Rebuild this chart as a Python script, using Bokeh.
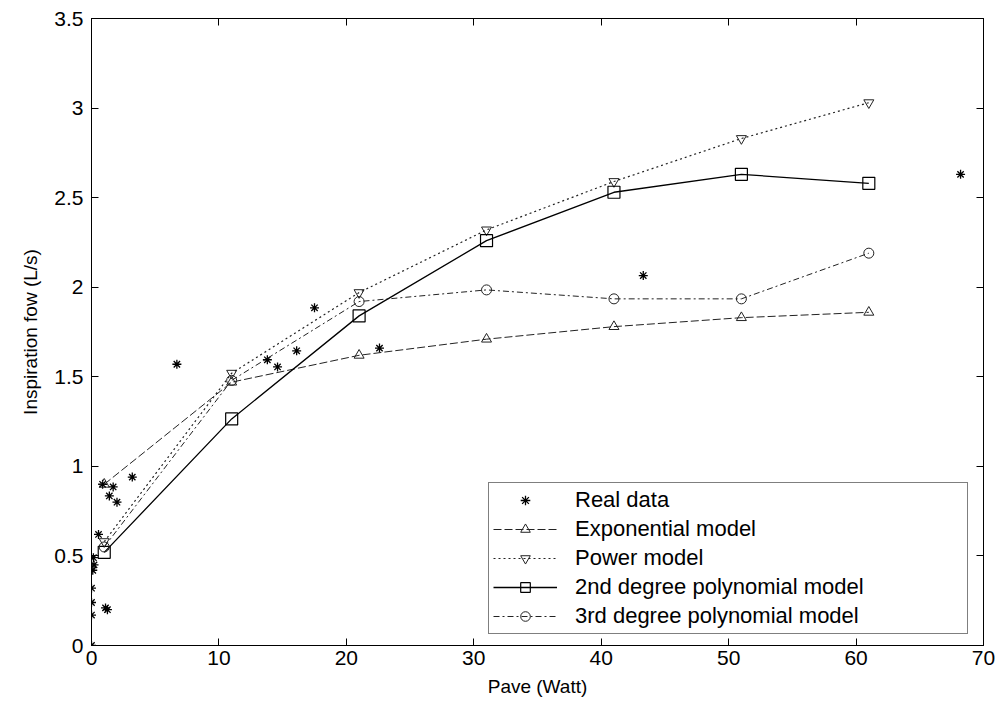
from bokeh.plotting import figure
from bokeh.models import LinearAxis, Range1d, Legend, LegendItem, FixedTicker
from bokeh.embed import file_html
from bokeh.resources import INLINE

# Real data
real_x = [0, 0, 0, 0, 0.1, 0.2, 0.15, 0.55, 1.25, 1.1, 0.87, 1.7, 1.4, 2.0, 3.2,
          6.7, 13.8, 14.6, 16.1, 17.5, 22.6, 43.3, 68.2]
real_y = [0.0, 0.17, 0.24, 0.32, 0.42, 0.45, 0.49, 0.62, 0.20, 0.21, 0.90, 0.885,
          0.835, 0.80, 0.94, 1.57, 1.595, 1.555, 1.645, 1.885, 1.66, 2.065, 2.63]

# Model evaluation points
model_x = [1, 11, 21, 31, 41, 51, 61]
exp_y = [0.90, 1.47, 1.62, 1.71, 1.78, 1.83, 1.86]
pow_y = [0.58, 1.52, 1.97, 2.32, 2.59, 2.83, 3.03]
poly2_y = [0.52, 1.265, 1.84, 2.26, 2.53, 2.63, 2.58]
poly3_y = [0.55, 1.48, 1.92, 1.985, 1.935, 1.935, 2.19]

x_ticks = [0, 10, 20, 30, 40, 50, 60, 70]
y_ticks = [0, 0.5, 1, 1.5, 2, 2.5, 3, 3.5]

FONT = "Liberation Sans"

p = figure(frame_width=892, frame_height=627, output_backend="svg", toolbar_location=None,
           x_range=Range1d(0, 70), y_range=Range1d(0, 3.5),
           min_border_left=91, min_border_right=14, min_border_top=18, min_border_bottom=69)
p.background_fill_color = "white"
p.border_fill_color = "white"
p.outline_line_color = "black"
p.outline_line_width = 1
p.xgrid.visible = False
p.ygrid.visible = False

for ax, ticks in ((p.xaxis[0], x_ticks), (p.yaxis[0], y_ticks)):
    ax.ticker = FixedTicker(ticks=ticks)
    ax.major_tick_in = 7
    ax.major_tick_out = 0
    ax.minor_tick_line_color = None
    ax.major_label_text_font = FONT
    ax.major_label_text_font_size = "21px"
    ax.major_label_text_color = "black"
    ax.axis_label_text_font = FONT
    ax.axis_label_text_font_size = "19px"
    ax.axis_label_text_font_style = "normal"
    ax.axis_label_text_color = "black"
    ax.axis_line_color = "black"
    ax.major_tick_line_color = "black"

p.xaxis[0].axis_label = "Pave (Watt)"
p.yaxis[0].axis_label = "Inspiration fow (L/s)"
p.xaxis[0].major_label_standoff = 5
p.yaxis[0].major_label_standoff = 8
p.xaxis[0].axis_label_standoff = 8
p.yaxis[0].axis_label_standoff = 10

rax = LinearAxis(ticker=FixedTicker(ticks=y_ticks), major_tick_in=7, major_tick_out=0,
                 minor_tick_line_color=None,
                 major_label_overrides={t: "" for t in y_ticks},
                 major_label_standoff=0)
tax = LinearAxis(ticker=FixedTicker(ticks=x_ticks), major_tick_in=7, major_tick_out=0,
                 minor_tick_line_color=None,
                 major_label_overrides={t: "" for t in x_ticks},
                 major_label_standoff=0)
p.add_layout(rax, "right")
p.add_layout(tax, "above")

col = "#222222"
r_real = p.scatter(real_x, real_y, marker="asterisk", size=9, line_color="black", line_width=1.3)

l_exp = p.line(model_x, exp_y, line_color=col, line_dash="8 3", line_width=1)
m_exp = p.scatter(model_x, exp_y, marker="triangle", size=10, fill_color=None, line_color=col)

l_pow = p.line(model_x, pow_y, line_color=col, line_dash="2 3", line_width=1.2)
m_pow = p.scatter(model_x, pow_y, marker="inverted_triangle", size=10, fill_color=None, line_color=col)

l_p2 = p.line(model_x, poly2_y, line_color="black", line_width=1.3)
m_p2 = p.scatter(model_x, poly2_y, marker="square", size=12, fill_color=None, line_color="black", line_width=1.2)

l_p3 = p.line(model_x, poly3_y, line_color=col, line_dash="6 3 2 3", line_width=1)
m_p3 = p.scatter(model_x, poly3_y, marker="circle", size=10, fill_color=None, line_color=col)

legend = Legend(items=[
    LegendItem(label="Real data", renderers=[r_real]),
    LegendItem(label="Exponential model", renderers=[l_exp, m_exp]),
    LegendItem(label="Power model", renderers=[l_pow, m_pow]),
    LegendItem(label="2nd degree polynomial model", renderers=[l_p2, m_p2]),
    LegendItem(label="3rd degree polynomial model", renderers=[l_p3, m_p3]),
], location=(397, 11))
legend.label_text_font = FONT
legend.label_text_font_size = "22px"
legend.label_text_color = "black"
legend.glyph_width = 64
legend.glyph_height = 24
legend.label_height = 24
legend.label_width = 388
legend.spacing = 3
legend.padding = 4
legend.margin = 0
legend.label_standoff = 18
legend.border_line_color = "black"
legend.border_line_width = 1
legend.background_fill_alpha = 1
p.add_layout(legend, "center")

open("out.html", "w").write(file_html(p, INLINE))
